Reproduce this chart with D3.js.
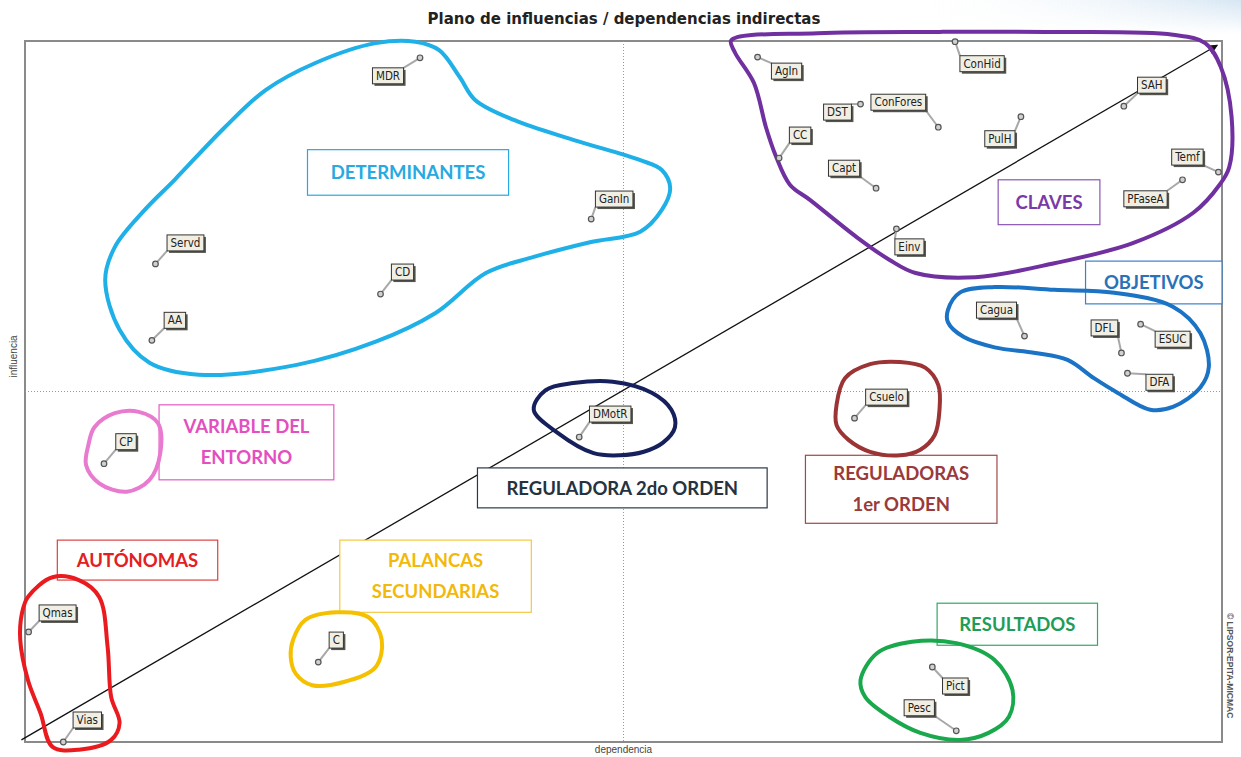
<!DOCTYPE html>
<html>
<head>
<meta charset="utf-8">
<script src="https://cdn.jsdelivr.net/npm/d3@7"></script>
<style>
  html, body { margin: 0; padding: 0; background: #fff; }
  svg { display: block; }
</style>
</head>
<body>
<div id="chart"></div>
<script>
/*************************/
/* CONSTANTS AND GLOBALS */
/*************************/
const width = 1241;
const height = 757;
const frame = { left: 25, top: 41, right: 1222, bottom: 742 };

/* variables: dependencia (x) / influencia (y), indirect plane */
const variables = ["MDR", "AgIn", "ConHid", "DST", "ConFores", "CC", "PulH", "SAH", "Capt", "Temf",
  "PFaseA", "Einv", "GanIn", "Servd", "CD", "AA", "Cagua", "DFL", "ESUC", "DFA",
  "Csuelo", "DMotR", "CP", "Qmas", "C", "Vias", "Pict", "Pesc"];
const dependencia = [33.0, 61.2, 77.7, 69.8, 76.3, 63.0, 83.2, 91.8, 71.1, 99.7,
  96.7, 72.8, 47.3, 10.9, 29.7, 10.6, 83.5, 91.6, 93.2, 92.1,
  69.3, 46.3, 6.6, 0.3, 24.5, 3.2, 75.8, 77.8];
const influencia = [97.6, 97.7, 99.9, 91.0, 87.7, 83.3, 89.2, 90.7, 79.0, 81.3,
  80.2, 73.2, 74.6, 68.2, 63.9, 57.3, 57.9, 55.5, 59.6, 52.6,
  46.2, 43.5, 39.7, 15.7, 11.4, 0.0, 10.7, 1.6];

/* hand drawn group outlines, in plane units */
const outlineDeterminantes = [[29.3, 99.7], [32.6, 99.9], [34.6, 98.7], [36.3, 94.9], [37.6, 91.6], [40.9, 88.7],
  [45.8, 85.9], [51.4, 83.0], [53.2, 81.6], [53.9, 79.0], [53.2, 75.9], [51.4, 72.8], [47.2, 71.3],
  [42.5, 69.2], [38.5, 66.9], [34.3, 61.2], [29.3, 57.1], [22.7, 53.8], [14.5, 52.4], [10.4, 54.1],
  [7.9, 58.8], [6.7, 65.9], [7.5, 70.6], [10.0, 75.9], [12.5, 80.2], [16.7, 87.7], [20.1, 93.0], [24.3, 96.9]];
const outlineClaves = [[59.0, 100.1], [66.2, 101.1], [76.4, 101.3], [86.0, 101.3], [95.9, 100.9], [98.6, 99.7],
  [99.9, 96.3], [100.8, 89.2], [100.6, 82.0], [99.8, 79.5], [97.6, 75.5], [92.6, 71.2], [86.0, 68.3],
  [79.4, 66.3], [74.4, 66.9], [72.2, 68.8], [69.5, 72.0], [65.6, 77.3], [63.9, 79.5], [62.7, 83.7],
  [61.9, 87.7], [60.9, 94.0], [59.3, 98.4]];
const outlineObjetivos = [[77.1, 61.6], [78.1, 64.1], [81.0, 64.9], [86.0, 64.5], [91.0, 64.1], [95.9, 62.1],
  [98.2, 58.3], [98.9, 53.5], [98.2, 50.6], [95.9, 47.8], [94.0, 47.4], [91.3, 49.8], [89.3, 51.9],
  [87.1, 54.5], [84.4, 55.5], [81.0, 56.3], [78.4, 57.8], [77.1, 59.9]];
const outlineReguladora2 = [[42.5, 47.4], [43.5, 50.2], [45.8, 51.2], [49.1, 51.4], [52.4, 49.8], [54.0, 47.4],
  [54.3, 44.9], [53.3, 42.7], [51.7, 41.4], [49.7, 40.9], [47.5, 41.2], [44.5, 44.1]];
const outlineEntorno = [[5.3, 42.4], [5.8, 44.9], [7.5, 46.9], [9.5, 47.1], [11.1, 45.5], [11.3, 41.2],
  [10.4, 37.4], [8.5, 35.7], [6.2, 36.9], [5.1, 39.5]];
const outlineAutonomas = [[0.25, 20.7], [2.3, 23.5], [4.5, 23.1], [6.2, 20.7], [6.9, 13.6], [7.2, 6.4],
  [7.9, 2.7], [7.2, 0.3], [4.5, -1.1], [2.3, -0.7], [1.3, 4.1], [0.25, 8.8], [-0.4, 14.6], [-0.25, 18.4]];
const outlinePalancas = [[22.4, 14.6], [23.4, 17.4], [26.0, 18.5], [28.7, 17.8], [29.8, 14.6], [29.3, 10.7],
  [26.7, 8.6], [24.0, 8.1], [22.6, 9.8], [22.2, 12.1]];
const outlineReguladoras1 = [[67.8, 48.1], [68.5, 51.9], [70.6, 53.9], [73.1, 54.2], [75.2, 53.4], [76.3, 50.9],
  [76.4, 47.4], [76.0, 43.8], [74.8, 41.7], [73.1, 40.9], [70.6, 41.4], [68.8, 43.1], [67.8, 45.2]];
const outlineResultados = [[69.8, 8.8], [71.2, 12.7], [74.1, 14.3], [77.8, 14.1], [81.0, 11.7], [82.5, 7.4],
  [82.2, 3.6], [80.5, 1.3], [78.1, 0.3], [74.8, 1.3], [72.2, 3.6], [70.2, 6.4]];

/* group captions */
const groupNames = ["DETERMINANTES", "CLAVES", "OBJETIVOS", "VARIABLE DEL|ENTORNO", "REGULADORA 2do ORDEN",
  "REGULADORAS|1er ORDEN", "AUTÓNOMAS", "PALANCAS|SECUNDARIAS", "RESULTADOS"];

/*********************/
/* LAYOUT AND STYLES */
/*********************/
// label offsets (px) from each point
const labelOffset = {
  MDR: [-32, 18], AgIn: [29, 14], ConHid: [27, 22], DST: [-23, 8], ConFores: [-40, -25], CC: [21, -23],
  PulH: [-21, 22], SAH: [28, -21], Capt: [-32, -20], Temf: [-31, -15], PFaseA: [-37, 19], Einv: [13, 18],
  GanIn: [23, -20], Servd: [30, -21], CD: [22, -22], AA: [23, -20], Cagua: [-28, -26], DFL: [-17, -25],
  ESUC: [32, 15], DFA: [32, 9], Csuelo: [32, -21], DMotR: [31, -23], CP: [22, -22], Qmas: [29, -19],
  C: [18, -22], Vias: [24, -22], Pict: [23, 19], Pesc: [-37, -23]
};

// caption boxes in plane units [x0, y0, x1, y1] with colours
const groupBoxes = [
  { box: [23.6, 84.5, 40.4, 78.0], text: "#27a9e1", line: "#27a9e1", outline: outlineDeterminantes, stroke: "#1fb0e8" },
  { box: [81.3, 80.2, 89.8, 73.8], text: "#7a3aa8", line: "#8a55b5", outline: outlineClaves, stroke: "#7030a0" },
  { box: [88.6, 68.6, 100.0, 62.5], text: "#2a72b8", line: "#3a82c8", outline: outlineObjetivos, stroke: "#1a73c4" },
  { box: [11.2, 48.1, 25.8, 37.4], text: "#e44fc0", line: "#e45cc4", outline: outlineEntorno, stroke: "#e87ad0" },
  { box: [37.8, 39.1, 62.0, 33.4], text: "#26323f", line: "#2c3847", outline: outlineReguladora2, stroke: "#15205c" },
  { box: [65.2, 40.9, 81.2, 31.2], text: "#9a3a3a", line: "#a04848", outline: outlineReguladoras1, stroke: "#9c3436" },
  { box: [2.7, 28.8, 16.1, 23.1], text: "#e3201f", line: "#e0403f", outline: outlineAutonomas, stroke: "#ea1b1f" },
  { box: [26.3, 28.8, 42.3, 18.5], text: "#f2b90a", line: "#f5c842", outline: outlinePalancas, stroke: "#f4c000" },
  { box: [76.2, 19.8, 89.6, 13.8], text: "#1f9d58", line: "#32a865", outline: outlineResultados, stroke: "#1aa84c" }
];

/****************************** SCALES *******************************/
const xScale = d3.scaleLinear().domain([0, 100]).range([frame.left, frame.right]);
const yScale = d3.scaleLinear().domain([0, 100]).range([frame.bottom, frame.top]);

const svg = d3.select("#chart")
  .append("svg")
  .attr("width", width)
  .attr("height", height);

const defs = svg.append("defs");
const grad = defs.append("linearGradient").attr("id", "topfade").attr("x1", "0").attr("x2", "1").attr("y1", "0").attr("y2", "0");
grad.append("stop").attr("offset", "0").attr("stop-color", "#ffffff").attr("stop-opacity", 0);
grad.append("stop").attr("offset", "1").attr("stop-color", "#d6e6f3").attr("stop-opacity", 1);
const vgrad = defs.append("linearGradient").attr("id", "vfade").attr("x1", "0").attr("x2", "0").attr("y1", "0").attr("y2", "1");
vgrad.append("stop").attr("offset", "0").attr("stop-color", "#fff").attr("stop-opacity", 1);
vgrad.append("stop").attr("offset", "1").attr("stop-color", "#fff").attr("stop-opacity", 0);
const mask = defs.append("mask").attr("id", "fademask");
mask.append("rect").attr("x", 900).attr("y", 0).attr("width", 341).attr("height", 34).attr("fill", "url(#vfade)");

svg.append("rect")
  .attr("x", 900).attr("y", 0).attr("width", 341).attr("height", 34)
  .attr("fill", "url(#topfade)")
  .attr("mask", "url(#fademask)");

defs.append("marker")
  .attr("id", "arrow")
  .attr("viewBox", "0 0 10 10")
  .attr("refX", 9).attr("refY", 5)
  .attr("markerWidth", 14).attr("markerHeight", 10)
  .attr("markerUnits", "userSpaceOnUse")
  .attr("orient", "auto")
  .append("path")
  .attr("d", "M0,0 L10,5 L0,10 z")
  .attr("fill", "#111");

/* title */
svg.append("text")
  .attr("x", 624).attr("y", 24)
  .attr("text-anchor", "middle")
  .style("font-family", "'DejaVu Sans', sans-serif")
  .style("font-weight", "bold")
  .style("font-size", "15px")
  .attr("fill", "#222")
  .text("Plano de influencias / dependencias indirectas");

/* frame and mean lines */
svg.append("rect")
  .attr("x", xScale(0)).attr("y", yScale(100))
  .attr("width", xScale(100) - xScale(0))
  .attr("height", yScale(0) - yScale(100))
  .attr("fill", "none")
  .attr("stroke", "#8a8a8a")
  .attr("stroke-width", 2);

svg.append("line")
  .attr("x1", xScale(50)).attr("x2", xScale(50))
  .attr("y1", yScale(100)).attr("y2", yScale(0))
  .attr("stroke", "#9a9a9a").attr("stroke-dasharray", "1,2");
svg.append("line")
  .attr("x1", xScale(0)).attr("x2", xScale(100))
  .attr("y1", yScale(50)).attr("y2", yScale(50))
  .attr("stroke", "#9a9a9a").attr("stroke-dasharray", "1,2");

/* diagonal */
svg.append("line")
  .attr("x1", xScale(-0.3)).attr("y1", yScale(0.3))
  .attr("x2", xScale(99.6)).attr("y2", yScale(99.4))
  .attr("stroke", "#111")
  .attr("stroke-width", 1.3)
  .attr("marker-end", "url(#arrow)");

/* axis titles */
svg.append("text")
  .attr("transform", `translate(17, ${yScale(55)}) rotate(-90)`)
  .attr("text-anchor", "middle")
  .style("font-family", "'Liberation Sans', Arial, sans-serif")
  .style("font-size", "10px")
  .attr("fill", "#444")
  .text("influencia");
svg.append("text")
  .attr("x", xScale(50)).attr("y", 753)
  .attr("text-anchor", "middle")
  .style("font-family", "'Liberation Sans', Arial, sans-serif")
  .style("font-size", "10px")
  .attr("fill", "#444")
  .text("dependencia");
svg.append("text")
  .attr("transform", `translate(1227, 613) rotate(90)`)
  .style("font-family", "'Liberation Sans', Arial, sans-serif")
  .style("font-size", "8.5px")
  .style("font-weight", "bold")
  .attr("fill", "#555")
  .text("© LIPSOR-EPITA-MICMAC");

/* group captions */
const captions = svg.selectAll("g.caption")
  .data(groupBoxes.map((g, i) => ({ ...g, name: groupNames[i] })))
  .join("g")
  .attr("class", "caption");

captions.append("rect")
  .attr("x", d => xScale(d.box[0]))
  .attr("y", d => yScale(d.box[1]))
  .attr("width", d => xScale(d.box[2]) - xScale(d.box[0]))
  .attr("height", d => yScale(d.box[3]) - yScale(d.box[1]))
  .attr("fill", "#fff")
  .attr("stroke", d => d.line)
  .attr("stroke-width", 1.2);

captions.each(function (d) {
  const lines = d.name.split("|");
  const cx = (xScale(d.box[0]) + xScale(d.box[2])) / 2;
  const cy = (yScale(d.box[1]) + yScale(d.box[3])) / 2;
  const lh = 31;
  lines.forEach((t, k) => {
    d3.select(this).append("text")
      .attr("x", cx)
      .attr("y", cy + (k - (lines.length - 1) / 2) * lh)
      .attr("dy", "0.36em")
      .attr("text-anchor", "middle")
      .style("font-family", "Lato, 'Open Sans', sans-serif")
      .style("font-weight", "bold")
      .style("font-size", "18.5px")
      .attr("fill", d.text)
      .text(t);
  });
});

/* outlines */
const outlineGen = d3.line()
  .x(d => xScale(d[0]))
  .y(d => yScale(d[1]))
  .curve(d3.curveCatmullRomClosed.alpha(0.5));

svg.selectAll("path.outline")
  .data(groupBoxes)
  .join("path")
  .attr("class", "outline")
  .attr("d", d => outlineGen(d.outline))
  .attr("fill", "none")
  .attr("stroke", d => d.stroke)
  .attr("stroke-width", 4)
  .attr("stroke-linejoin", "round");

/* points and labels */
const points = variables.map((v, i) => ({ name: v, x: dependencia[i], y: influencia[i] }));

const pts = svg.selectAll("g.variable")
  .data(points)
  .join("g")
  .attr("class", "variable");

pts.each(function (d) {
  const g = d3.select(this);
  const px = xScale(d.x);
  const py = yScale(d.y);
  const [dx, dy] = labelOffset[d.name];
  const lx = px + dx;
  const ly = py + dy;

  const txt = g.append("text")
    .attr("x", lx).attr("y", ly)
    .attr("dy", "0.35em")
    .attr("text-anchor", "middle")
    .style("font-family", "'Liberation Sans Narrow', 'DejaVu Sans Condensed', sans-serif")
    .style("font-size", "11.5px")
    .attr("fill", "#222")
    .text(d.name);
  const tw = txt.node().getComputedTextLength();
  const bw = tw + 7;
  const bh = 16;

  const cx = lx - Math.sign(dx) * bw / 2;
  const cy = ly - Math.sign(dy) * bh / 2;

  g.insert("line", "text")
    .attr("x1", px).attr("y1", py)
    .attr("x2", cx).attr("y2", cy)
    .attr("stroke", "#a8a8a8")
    .attr("stroke-width", 2);
  g.insert("rect", "text")
    .attr("x", lx - bw / 2 + 2).attr("y", ly - bh / 2 + 2)
    .attr("width", bw).attr("height", bh)
    .attr("fill", "#55554f");
  g.insert("rect", "text")
    .attr("x", lx - bw / 2).attr("y", ly - bh / 2)
    .attr("width", bw).attr("height", bh)
    .attr("fill", "#f1efe4")
    .attr("stroke", "#333")
    .attr("stroke-width", 1);
  g.append("circle")
    .attr("cx", px).attr("cy", py)
    .attr("r", 2.8)
    .attr("fill", "#d0d0d0")
    .attr("stroke", "#555")
    .attr("stroke-width", 1.2);
});
</script>
</body>
</html>
